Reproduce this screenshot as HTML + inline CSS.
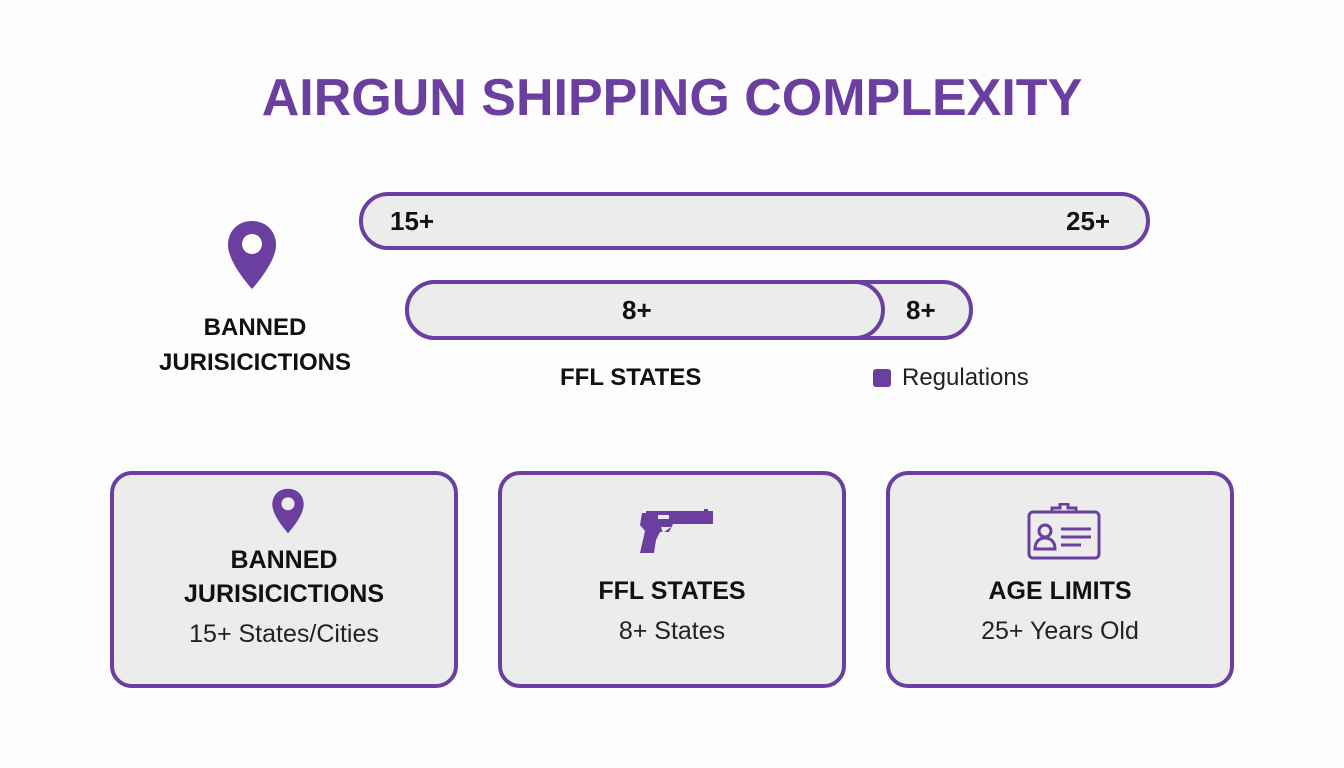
<!DOCTYPE html>
<html><head><meta charset="utf-8"><style>
body{margin:0;width:1344px;height:768px;background:#fdfdfd;font-family:"Liberation Sans",sans-serif;position:relative;overflow:hidden}
.a{position:absolute}
.t{font-weight:bold;color:#6a3fa0}
.bar{position:absolute;border:4px solid #6a3fa0;background:#ececed;border-radius:30px;box-sizing:border-box}
.lbl{position:absolute;font-weight:bold;font-size:26px;color:#111}
.card{position:absolute;top:471px;width:348px;height:217px;border:4px solid #6a3fa0;border-radius:22px;background:#ececed;box-sizing:border-box;text-align:center}
.card .h{font-weight:bold;font-size:25px;color:#111;line-height:34px}
.card .s{font-size:25px;color:#222;line-height:34px;margin-top:6px}
</style></head><body>
<div class="a t" style="left:0;width:1344px;top:68px;text-align:center;font-size:52px">AIRGUN SHIPPING COMPLEXITY</div>

<svg class="a" style="left:226px;top:219px" width="52" height="72" viewBox="0 0 52 72"><path d="M26 2C12 2 2 12 2 26c0 18 24 44 24 44s24-26 24-44C50 12 40 2 26 2z" fill="#6a3fa0"/><circle cx="26" cy="25" r="10" fill="#fdfdfd"/></svg>
<div class="a" style="left:120px;width:270px;top:310px;text-align:center;font-weight:bold;font-size:24px;line-height:35px;color:#111">BANNED<br>JURISICICTIONS</div>

<div class="bar" style="left:359px;top:192px;width:791px;height:58px"></div>
<div class="lbl" style="left:390px;top:206px">15+</div>
<div class="lbl" style="left:1066px;top:206px">25+</div>

<div class="bar" style="left:405px;top:280px;width:568px;height:60px"></div>
<div class="bar" style="left:405px;top:280px;width:480px;height:60px"></div>
<div class="lbl" style="left:622px;top:295px">8+</div>
<div class="lbl" style="left:906px;top:295px">8+</div>

<div class="a" style="left:560px;top:364px;font-weight:bold;font-size:24px;color:#111">FFL STATES</div>
<div class="a" style="left:873px;top:369px;width:18px;height:18px;background:#6a3fa0;border-radius:3px"></div>
<div class="a" style="left:902px;top:364px;font-size:24px;color:#222">Regulations</div>

<div class="card" style="left:110px">
<svg style="position:absolute;left:157px;top:12px" width="34" height="48" viewBox="0 0 52 72"><path d="M26 2C12 2 2 12 2 26c0 18 24 44 24 44s24-26 24-44C50 12 40 2 26 2z" fill="#6a3fa0"/><circle cx="26" cy="25" r="10" fill="#ececed"/></svg>
<div style="padding-top:68px" class="h">BANNED<br>JURISICICTIONS</div><div class="s">15+ States/Cities</div></div>

<div class="card" style="left:498px">
<svg style="position:absolute;left:136px;top:33px" width="78" height="48" viewBox="0 0 78 48"><path d="M4 5h4v-2h58v-2h4v2h5v13h-40l-4 8h-9l-4 8-2 13h-14l5-22-5-6z" fill="#6a3fa0"/><rect x="20" y="7" width="11" height="4" fill="#ececed"/><path d="M23 19l2 6 8-6z" fill="#ececed"/></svg>
<div style="padding-top:99px" class="h">FFL STATES</div><div class="s">8+ States</div></div>

<div class="card" style="left:886px">
<svg style="position:absolute;left:136px;top:28px" width="76" height="58" viewBox="0 0 76 58"><rect x="3" y="9" width="70" height="46" rx="4" fill="none" stroke="#6a3fa0" stroke-width="3"/><path d="M26 9v-4h8v-4h8v4h8v4" fill="none" stroke="#6a3fa0" stroke-width="3"/><circle cx="19" cy="28" r="6" fill="none" stroke="#6a3fa0" stroke-width="3"/><path d="M9 46c0-8 5-11 10-11s10 3 10 11z" fill="none" stroke="#6a3fa0" stroke-width="3"/><path d="M35 26h30M35 34h30M35 42h20" stroke="#6a3fa0" stroke-width="3"/></svg>
<div style="padding-top:99px" class="h">AGE LIMITS</div><div class="s">25+ Years Old</div></div>
</body></html>
